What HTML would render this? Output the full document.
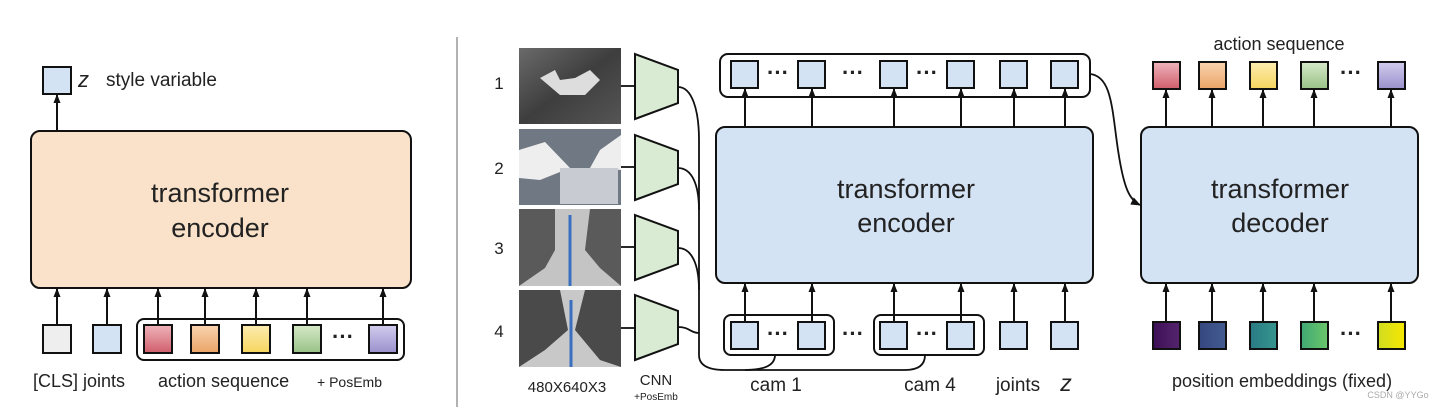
<!DOCTYPE html>
<html><head><meta charset="utf-8"><style>
html,body{margin:0;padding:0;background:#fff;width:1440px;height:407px;overflow:hidden}
svg{display:block}
text{font-family:"Liberation Sans",sans-serif;fill:#222}
</style></head><body>
<svg width="1440" height="407" viewBox="0 0 1440 407" xmlns="http://www.w3.org/2000/svg">
<defs>
<marker id="ah" markerWidth="9" markerHeight="8" refX="8" refY="4" orient="auto" markerUnits="userSpaceOnUse" viewBox="0 0 9 8"><path d="M0,0.5 L9,4 L0,7.5 Z" fill="#111"/></marker>
<marker id="ah2" markerWidth="10" markerHeight="10" refX="9" refY="5" orient="auto" markerUnits="userSpaceOnUse" viewBox="0 0 10 10"><path d="M0,1 L10,5 L0,9 Z" fill="#111"/></marker>
<linearGradient id="gr" x1="0" y1="0" x2="0" y2="1"><stop offset="0" stop-color="#eeb4ba"/><stop offset="1" stop-color="#d05e6c"/></linearGradient>
<linearGradient id="go" x1="0" y1="0" x2="0" y2="1"><stop offset="0" stop-color="#f8d4b0"/><stop offset="1" stop-color="#eba466"/></linearGradient>
<linearGradient id="gy" x1="0" y1="0" x2="0" y2="1"><stop offset="0" stop-color="#fcecb0"/><stop offset="1" stop-color="#f6d55e"/></linearGradient>
<linearGradient id="gg" x1="0" y1="0" x2="0" y2="1"><stop offset="0" stop-color="#d6e8c8"/><stop offset="1" stop-color="#98c286"/></linearGradient>
<linearGradient id="gp" x1="0" y1="0" x2="0" y2="1"><stop offset="0" stop-color="#d2cdee"/><stop offset="1" stop-color="#9a90cc"/></linearGradient>
<linearGradient id="p1" x1="0" y1="0" x2="1" y2="0"><stop offset="0" stop-color="#3d0f56"/><stop offset="1" stop-color="#55246e"/></linearGradient>
<linearGradient id="p2" x1="0" y1="0" x2="1" y2="0"><stop offset="0" stop-color="#36477f"/><stop offset="1" stop-color="#425c92"/></linearGradient>
<linearGradient id="p3" x1="0" y1="0" x2="1" y2="0"><stop offset="0" stop-color="#2a7b84"/><stop offset="1" stop-color="#35958e"/></linearGradient>
<linearGradient id="p4" x1="0" y1="0" x2="1" y2="0"><stop offset="0" stop-color="#3fa874"/><stop offset="1" stop-color="#6cc66a"/></linearGradient>
<linearGradient id="p5" x1="0" y1="0" x2="1" y2="0"><stop offset="0" stop-color="#d0dc20"/><stop offset="1" stop-color="#f6e800"/></linearGradient>
<linearGradient id="im" x1="0" y1="0" x2="1" y2="1"><stop offset="0" stop-color="#6a6a6a"/><stop offset="0.5" stop-color="#3e3e3e"/><stop offset="1" stop-color="#555"/></linearGradient>
</defs>

<!-- LEFT PANEL -->
<rect x="43" y="67" width="28" height="27" fill="#d4e3f4" stroke="#111" stroke-width="2"/>
<text x="78" y="87" font-size="22" font-style="italic" font-family="Liberation Serif,serif">z</text>
<text x="106" y="86" font-size="19">style variable</text>
<line x1="57" y1="131" x2="57" y2="95" stroke="#111" stroke-width="2" marker-end="url(#ah)"/>
<rect x="31" y="131" width="380" height="157" rx="9" fill="#f9e2c9" stroke="#111" stroke-width="2"/>
<text x="220" y="202" font-size="27" text-anchor="middle">transformer</text>
<text x="220" y="237" font-size="27" text-anchor="middle">encoder</text>
<rect x="137" y="319" width="267" height="41" rx="7" fill="none" stroke="#111" stroke-width="2"/>
<rect x="43" y="325" width="28" height="28" fill="#eeeeee" stroke="#111" stroke-width="2"/>
<rect x="93" y="325" width="28" height="28" fill="#d4e3f4" stroke="#111" stroke-width="2"/>
<rect x="144" y="325" width="28" height="28" fill="url(#gr)" stroke="#111" stroke-width="2"/>
<rect x="191" y="325" width="28" height="28" fill="url(#go)" stroke="#111" stroke-width="2"/>
<rect x="242" y="325" width="28" height="28" fill="url(#gy)" stroke="#111" stroke-width="2"/>
<rect x="293" y="325" width="28" height="28" fill="url(#gg)" stroke="#111" stroke-width="2"/>
<rect x="369" y="325" width="28" height="28" fill="url(#gp)" stroke="#111" stroke-width="2"/>
<text x="343" y="344" font-size="22" font-weight="bold" text-anchor="middle">···</text>
<g stroke="#111" stroke-width="2" marker-end="url(#ah)">
<line x1="57" y1="325" x2="57" y2="289"/><line x1="107" y1="325" x2="107" y2="289"/>
<line x1="158" y1="325" x2="158" y2="289"/><line x1="205" y1="325" x2="205" y2="289"/>
<line x1="256" y1="325" x2="256" y2="289"/><line x1="307" y1="325" x2="307" y2="289"/>
<line x1="383" y1="325" x2="383" y2="289"/>
</g>
<text x="33" y="387" font-size="18">[CLS] joints</text>
<text x="158" y="387" font-size="18">action sequence</text>
<text x="317" y="387" font-size="14">+ PosEmb</text>

<line x1="457" y1="37" x2="457" y2="407" stroke="#999" stroke-width="1.5"/>

<!-- MIDDLE: images -->
<g font-size="17">
<text x="499" y="89" text-anchor="middle">1</text>
<text x="499" y="174" text-anchor="middle">2</text>
<text x="499" y="254" text-anchor="middle">3</text>
<text x="499" y="337" text-anchor="middle">4</text>
</g>
<rect x="519" y="48" width="102" height="76" fill="url(#im)"/>
<path d="M540,78 L555,70 L560,80 L575,78 L590,70 L600,80 L585,95 L560,95 Z" fill="#ddd"/>
<rect x="519" y="129" width="102" height="76" fill="#707884"/>
<path d="M519,150 L545,142 L570,168 L540,180 L519,178 Z" fill="#eee"/><path d="M621,135 L600,150 L590,168 L621,170 Z" fill="#eee"/><rect x="560" y="168" width="58" height="36" fill="#c8ccd2"/>
<rect x="519" y="209" width="102" height="77" fill="#5a5a5a"/>
<path d="M555,209 L590,209 L585,250 L600,268 L621,286 L519,286 L545,268 L555,250 Z" fill="#c4c4c4"/><line x1="570" y1="215" x2="570" y2="286" stroke="#3a6fc0" stroke-width="3"/>
<rect x="519" y="290" width="102" height="77" fill="#4a4a4a"/>
<path d="M560,290 L585,290 L575,330 L600,360 L621,367 L519,367 L545,350 L568,330 Z" fill="#c8c8c8"/><line x1="571" y1="300" x2="571" y2="367" stroke="#3a6fc0" stroke-width="3"/>

<!-- trapezoids -->
<g fill="#d9ebd3" stroke="#111" stroke-width="2">
<path d="M635,54 L678,70 L678,103 L635,119 Z"/>
<path d="M635,135 L678,151 L678,184 L635,200 Z"/>
<path d="M635,215 L678,231 L678,264 L635,280 Z"/>
<path d="M635,295 L678,311 L678,344 L635,360 Z"/>
</g>
<g stroke="#111" stroke-width="1.8" fill="none">
<line x1="621" y1="86" x2="635" y2="86"/><line x1="621" y1="167" x2="635" y2="167"/>
<line x1="621" y1="247" x2="635" y2="247"/><line x1="621" y1="328" x2="635" y2="328"/>
<path d="M678,87 C692,87 699,110 699,140 L699,355 C699,366 710,370 725,370 L905,370 C918,370 925,365 925,355"/>
<path d="M678,168 C692,168 699,185 699,210"/>
<path d="M678,248 C692,248 699,265 699,290"/>
<path d="M678,327 C690,327 690,333 699,333"/>
<path d="M745,370 C765,370 775,365 775,355"/>
</g>
<text x="567" y="392" font-size="15" text-anchor="middle">480X640X3</text>
<text x="656" y="385" font-size="15" text-anchor="middle">CNN</text>
<text x="656" y="400" font-size="10" text-anchor="middle">+PosEmb</text>

<!-- encoder -->
<rect x="716" y="127" width="377" height="156" rx="9" fill="#d4e3f4" stroke="#111" stroke-width="2"/>
<text x="906" y="198" font-size="27" text-anchor="middle">transformer</text>
<text x="906" y="232" font-size="27" text-anchor="middle">encoder</text>
<rect x="720" y="54" width="370" height="43" rx="8" fill="none" stroke="#111" stroke-width="2"/>
<g fill="#d4e3f4" stroke="#111" stroke-width="2">
<rect x="731" y="61" width="27" height="27"/><rect x="798" y="61" width="27" height="27"/><rect x="880" y="61" width="27" height="27"/><rect x="947" y="61" width="27" height="27"/><rect x="1000" y="61" width="27" height="27"/><rect x="1051" y="61" width="27" height="27"/>
<rect x="731" y="322" width="27" height="27"/><rect x="798" y="322" width="27" height="27"/><rect x="880" y="322" width="27" height="27"/><rect x="947" y="322" width="27" height="27"/><rect x="1000" y="322" width="27" height="27"/><rect x="1051" y="322" width="27" height="27"/>
</g>
<rect x="724" y="315" width="110" height="40" rx="7" fill="none" stroke="#111" stroke-width="2"/>
<rect x="874" y="315" width="110" height="40" rx="7" fill="none" stroke="#111" stroke-width="2"/>
<g font-size="22" font-weight="bold" text-anchor="middle">
<text x="778" y="80">···</text><text x="853" y="80">···</text><text x="927" y="80">···</text>
<text x="778" y="341">···</text><text x="853" y="341">···</text><text x="927" y="341">···</text>
</g>
<g stroke="#111" stroke-width="2" marker-end="url(#ah)">
<line x1="745" y1="127" x2="745" y2="89"/><line x1="812" y1="127" x2="812" y2="89"/><line x1="894" y1="127" x2="894" y2="89"/><line x1="961" y1="127" x2="961" y2="89"/><line x1="1014" y1="127" x2="1014" y2="89"/><line x1="1065" y1="127" x2="1065" y2="89"/>
<line x1="745" y1="322" x2="745" y2="284"/><line x1="812" y1="322" x2="812" y2="284"/><line x1="894" y1="322" x2="894" y2="284"/><line x1="961" y1="322" x2="961" y2="284"/><line x1="1014" y1="322" x2="1014" y2="284"/><line x1="1065" y1="322" x2="1065" y2="284"/>
</g>
<text x="776" y="391" font-size="19" text-anchor="middle">cam 1</text>
<text x="930" y="391" font-size="19" text-anchor="middle">cam 4</text>
<text x="1018" y="391" font-size="19" text-anchor="middle">joints</text>
<text x="1066" y="391" font-size="23" font-style="italic" font-family="Liberation Serif,serif" text-anchor="middle">z</text>

<path d="M1090,74 C1112,76 1112,110 1118,150 C1124,190 1130,200 1140,205" fill="none" stroke="#111" stroke-width="1.8" marker-end="url(#ah2)"/>

<!-- decoder -->
<rect x="1141" y="127" width="277" height="156" rx="9" fill="#d4e3f4" stroke="#111" stroke-width="2"/>
<text x="1280" y="198" font-size="27" text-anchor="middle">transformer</text>
<text x="1280" y="232" font-size="27" text-anchor="middle">decoder</text>
<text x="1279" y="50" font-size="18" text-anchor="middle">action sequence</text>
<g stroke="#111" stroke-width="2">
<rect x="1153" y="62" width="27" height="27" fill="url(#gr)"/><rect x="1199" y="62" width="27" height="27" fill="url(#go)"/><rect x="1250" y="62" width="27" height="27" fill="url(#gy)"/><rect x="1301" y="62" width="27" height="27" fill="url(#gg)"/><rect x="1378" y="62" width="27" height="27" fill="url(#gp)"/>
<rect x="1153" y="322" width="27" height="27" fill="url(#p1)"/><rect x="1199" y="322" width="27" height="27" fill="url(#p2)"/><rect x="1250" y="322" width="27" height="27" fill="url(#p3)"/><rect x="1301" y="322" width="27" height="27" fill="url(#p4)"/><rect x="1378" y="322" width="27" height="27" fill="url(#p5)"/>
</g>
<g font-size="22" font-weight="bold" text-anchor="middle"><text x="1351" y="80">···</text><text x="1351" y="341">···</text></g>
<g stroke="#111" stroke-width="2" marker-end="url(#ah)">
<line x1="1166" y1="127" x2="1166" y2="90"/><line x1="1212" y1="127" x2="1212" y2="90"/><line x1="1263" y1="127" x2="1263" y2="90"/><line x1="1314" y1="127" x2="1314" y2="90"/><line x1="1391" y1="127" x2="1391" y2="90"/>
<line x1="1166" y1="322" x2="1166" y2="284"/><line x1="1212" y1="322" x2="1212" y2="284"/><line x1="1263" y1="322" x2="1263" y2="284"/><line x1="1314" y1="322" x2="1314" y2="284"/><line x1="1391" y1="322" x2="1391" y2="284"/>
</g>
<text x="1282" y="387" font-size="18" text-anchor="middle">position embeddings (fixed)</text>
<text x="1398" y="398" font-size="9" style="fill:#aaa" text-anchor="middle">CSDN @YYGo</text>
</svg>
</body></html>
